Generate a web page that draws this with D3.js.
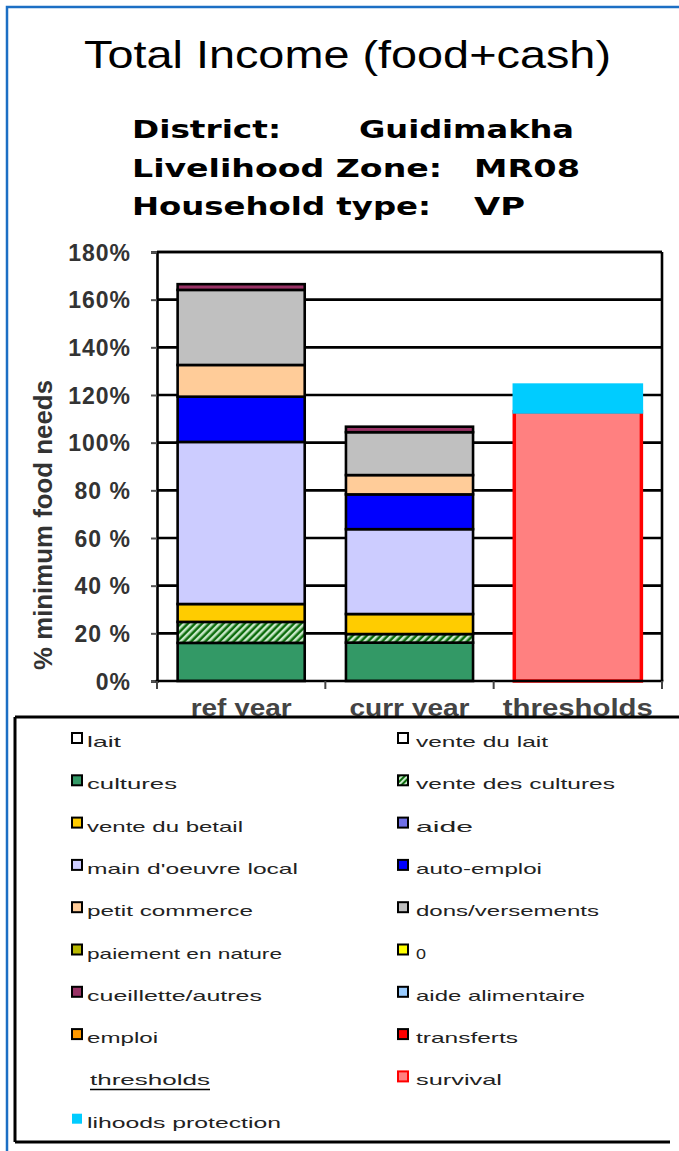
<!DOCTYPE html>
<html><head><meta charset="utf-8">
<script src="https://cdn.jsdelivr.net/npm/d3@7"></script>
<style>html,body{margin:0;padding:0;background:#fff;overflow:hidden}</style>
</head><body>
<svg id="c" width="679" height="1151"></svg>
<script>
// ---- data ----
const categories = ["ref year", "curr year", "thresholds"];
const cultures          = [0.160, 0.161, 0];
const venteCultures     = [0.088, 0.036, 0];
const venteBetail       = [0.075, 0.084, 0];
const mainOeuvre        = [0.680, 0.356, 0];
const autoEmploi        = [0.190, 0.146, 0];
const petitCommerce     = [0.133, 0.081, 0];
const donsVersements    = [0.315, 0.180, 0];
const cueillette        = [0.024, 0.023, 0];
const survival          = [0, 0, 1.130];
const livelihoodsProt   = [0, 0, 0.119];
const yTicks = [0, 0.2, 0.4, 0.6, 0.8, 1.0, 1.2, 1.4, 1.6, 1.8];
const yTickLabels = ["0%", "20 %", "40 %", "60 %", "80 %", "100%", "120%", "140%", "160%", "180%"];

const seriesKeys = ["cultures","venteCultures","venteBetail","mainOeuvre","autoEmploi","petitCommerce","donsVersements","cueillette","survival","livelihoodsProt"];
const seriesData = {cultures, venteCultures, venteBetail, mainOeuvre, autoEmploi, petitCommerce, donsVersements, cueillette, survival, livelihoodsProt};
const colors = {
  cultures:"#339966", venteCultures:"url(#hatch)", venteBetail:"#FFCC00", mainOeuvre:"#CCCCFF",
  autoEmploi:"#0000FF", petitCommerce:"#FFCC99", donsVersements:"#C0C0C0", cueillette:"#993366",
  survival:"#FF8080", livelihoodsProt:"#00CCFF"
};

const legendCol1 = [
  {t:"lait", c:"#FFFFFF", w:34},
  {t:"cultures", c:"#339966", w:90},
  {t:"vente du betail", c:"#FFCC00", w:156},
  {t:"main d'oeuvre local", c:"#CCCCFF", w:211},
  {t:"petit commerce", c:"#FFCC99", w:166},
  {t:"paiement en nature", c:"#B8B800", w:195},
  {t:"cueillette/autres", c:"#993366", w:175},
  {t:"emploi", c:"#FF9900", w:71},
  {t:"thresholds", c:null, w:120, header:true},
  {t:"lihoods protection", c:"#00CCFF", w:194, noStroke:true}
];
const legendCol2 = [
  {t:"vente du lait", c:"#FFFFFF", w:132},
  {t:"vente des cultures", c:"url(#hatchS)", w:199},
  {t:"aide", c:"#7070E8", w:57},
  {t:"auto-emploi", c:"#0000FF", w:126},
  {t:"dons/versements", c:"#C0C0C0", w:183},
  {t:"0", c:"#FFFF00", w:10},
  {t:"aide alimentaire", c:"#99CCFF", w:169},
  {t:"transferts", c:"#FF0000", w:102},
  {t:"survival", c:"#FF8080", w:86, red:true}
];

// ---- drawing ----
const svg = d3.select("#c");
const defs = svg.append("defs");
function hatch(id, size){
  const p = defs.append("pattern").attr("id", id).attr("patternUnits","userSpaceOnUse")
    .attr("width", size).attr("height", size).attr("patternTransform","rotate(-45)");
  p.append("rect").attr("width", size).attr("height", size).attr("fill","#0B6B0B");
  p.append("rect").attr("width", size).attr("height", size/2).attr("fill","#C8E8C8");
}
hatch("hatch", 5); hatch("hatchS", 4);

// outer blue frame
svg.append("rect").attr("x",7).attr("y",7).attr("width",700).attr("height",1200)
  .attr("fill","none").attr("stroke","#1C6FC4").attr("stroke-width",2.5);

// title
svg.append("text").attr("x",84).attr("y",68).attr("textLength",527).attr("lengthAdjust","spacingAndGlyphs")
  .style("font-family","Liberation Sans, Arial, sans-serif").style("font-size","39px").attr("fill","#000")
  .text("Total Income (food+cash)");

const sub = [
  ["District:",132,138,149],["Guidimakha",359,138,215],
  ["Livelihood Zone:",132,177,310],["MR08",474,177,106],
  ["Household type:",132,215,299],["VP",474,215,51]
];
svg.selectAll("text.sub").data(sub).enter().append("text").attr("class","sub")
  .attr("x",d=>d[1]).attr("y",d=>d[2]).attr("textLength",d=>d[3]).attr("lengthAdjust","spacingAndGlyphs")
  .style("font-family","DejaVu Sans, sans-serif").style("font-weight","bold").style("font-size","24px")
  .text(d=>d[0]);

// scales
const x = d3.scaleBand().domain(categories).range([157,662]).paddingInner(0).paddingOuter(0);
const y = d3.scaleLinear().domain([0,1.8]).range([681,252]);
const barW = x.bandwidth()*0.755;

// gridlines
const plot = svg.append("g");
plot.selectAll("line.grid").data(yTicks.filter(v=>v>0)).enter().append("line")
  .attr("x1",157).attr("x2",662).attr("y1",d=>y(d)).attr("y2",d=>y(d))
  .attr("stroke","#000").attr("stroke-width",2.6);

// stacked bars
const rows = categories.map((c,i)=>{const o={cat:c}; seriesKeys.forEach(k=>o[k]=seriesData[k][i]); return o;});
const stacked = d3.stack().keys(seriesKeys)(rows);
stacked.forEach(s=>{
  const key = s.key;
  s.forEach(d=>{
    if (d[1]-d[0] <= 0) return;
    const cx = x(d.data.cat) + x.bandwidth()/2;
    const x0 = cx - barW/2;
    if (key === "survival") {
      plot.append("rect").attr("x",x0).attr("y",y(d[1])).attr("width",barW).attr("height",y(d[0])-y(d[1]))
        .attr("fill",colors[key]).attr("stroke","#FF0000").attr("stroke-width",3.5);
    } else if (key === "livelihoodsProt") {
      plot.append("rect").attr("x",x0-1.75).attr("y",y(d[1])).attr("width",barW+3.5).attr("height",y(d[0])-y(d[1])+2)
        .attr("fill",colors[key]);
    } else {
      plot.append("rect").attr("x",x0).attr("y",y(d[1])).attr("width",barW).attr("height",y(d[0])-y(d[1]))
        .attr("fill",colors[key]).attr("stroke","#000").attr("stroke-width",2.6);
    }
  });
});

// axes frame
plot.append("line").attr("x1",157).attr("x2",662).attr("y1",y(1.8)).attr("y2",y(1.8)).attr("stroke","#000").attr("stroke-width",2.6);
plot.append("line").attr("x1",662).attr("x2",662).attr("y1",y(1.8)).attr("y2",y(0)).attr("stroke","#000").attr("stroke-width",2.6);

const yAxis = d3.axisLeft(y).tickValues(yTicks).tickSize(6).tickPadding(20)
  .tickFormat((d,i)=>yTickLabels[i]);
const ga = svg.append("g").attr("transform","translate(157,0)").call(yAxis);
ga.select(".domain").attr("stroke","#000").attr("stroke-width",2.6);
ga.selectAll(".tick line").attr("stroke","#555").attr("stroke-width",2);
ga.selectAll(".tick text").style("font-family","Liberation Sans, Arial, sans-serif").style("font-weight","bold")
  .style("font-size","23px").attr("fill","#333").attr("letter-spacing","1px").attr("dy","0.36em");

// bottom axis
const xAxis = d3.axisBottom(x).tickSize(0).tickFormat("");
const gb = svg.append("g").attr("transform","translate(0,681)").call(xAxis);
gb.select(".domain").attr("stroke","#000").attr("stroke-width",2.6).attr("d","M155.7,0H663.3");
const bounds = [0,1,2].map(i=>x(categories[i])).concat([662]);
gb.selectAll("line.cb").data(bounds).enter().append("line").attr("class","cb")
  .attr("x1",d=>d).attr("x2",d=>d).attr("y1",0).attr("y2",8).attr("stroke","#444").attr("stroke-width",2);

const catW = {"ref year":101, "curr year":120, "thresholds":150};
svg.selectAll("text.cat").data(categories).enter().append("text").attr("class","cat")
  .attr("x",d=>x(d)+x.bandwidth()/2-catW[d]/2).attr("y",716)
  .attr("textLength",d=>catW[d]).attr("lengthAdjust","spacingAndGlyphs")
  .style("font-family","Liberation Sans, Arial, sans-serif").style("font-weight","bold").style("font-size","23px")
  .attr("fill","#444").text(d=>d);

// y axis title
svg.append("text").attr("transform","translate(52,525) rotate(-90)").attr("text-anchor","middle")
  .attr("textLength",290).attr("lengthAdjust","spacingAndGlyphs")
  .style("font-family","Liberation Sans, Arial, sans-serif").style("font-weight","bold").style("font-size","25px")
  .attr("fill","#333").text("% minimum food needs");

// legend box
const lg = svg.append("g");
lg.append("rect").attr("x",15).attr("y",717).attr("width",700).attr("height",425).attr("fill","#fff");
lg.append("line").attr("x1",15).attr("x2",679).attr("y1",717).attr("y2",717).attr("stroke","#000").attr("stroke-width",3);
lg.append("line").attr("x1",15).attr("x2",15).attr("y1",717).attr("y2",1142).attr("stroke","#000").attr("stroke-width",3);
lg.append("line").attr("x1",15).attr("x2",670).attr("y1",1142).attr("y2",1142).attr("stroke","#000").attr("stroke-width",3);

const rowY = i => 742 + i*42.3;
function legendText(xp, yp, it){
  lg.append("text").attr("x",xp).attr("y",yp).attr("textLength",it.w).attr("lengthAdjust","spacingAndGlyphs")
    .style("font-family","Liberation Sans, Arial, sans-serif").style("font-size","15px").attr("fill","#222").text(it.t);
}
function drawLegend(items, sx, tx){
  items.forEach((it,i)=>{
    const cy = rowY(i);
    if (it.header) {
      legendText(90, cy+5, it);
      lg.append("line").attr("x1",90).attr("x2",90+it.w).attr("y1",cy+9).attr("y2",cy+9).attr("stroke","#000").attr("stroke-width",1.5);
      return;
    }
    lg.append("rect").attr("x",sx).attr("y",cy-9).attr("width",10).attr("height",10)
      .attr("fill",it.c).attr("stroke",it.noStroke?"none":(it.red?"#FF0000":"#000")).attr("stroke-width",it.noStroke?0:2);
    legendText(tx, cy+5, it);
  });
}
drawLegend(legendCol1, 72, 87);
drawLegend(legendCol2, 398, 416);
</script>
</body></html>
